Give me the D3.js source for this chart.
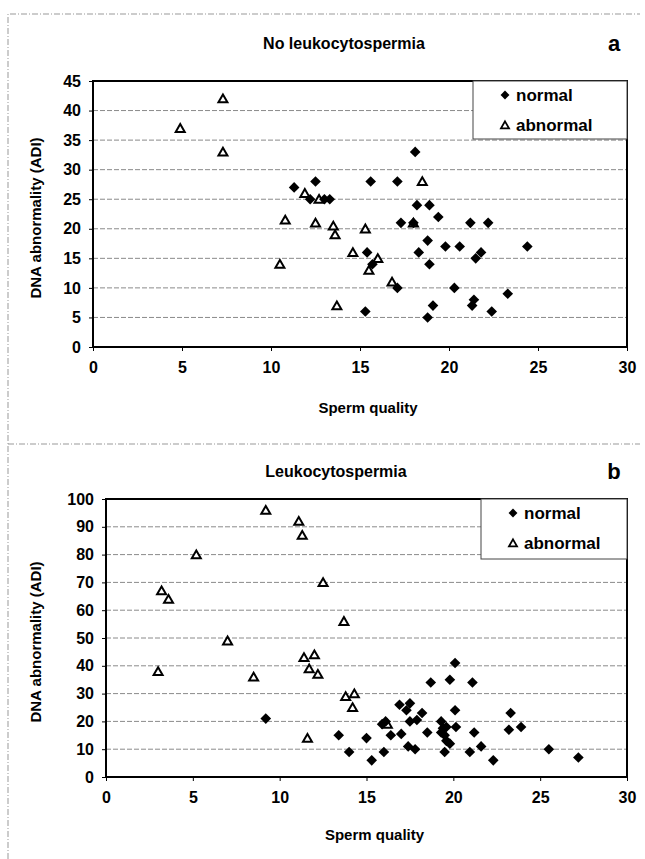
<!DOCTYPE html>
<meta charset="utf-8">
<style>
  body { margin: 0; background: #fff; }
  svg text { font-family: "Liberation Sans", Arial, sans-serif; font-weight: bold; fill: #000; }
  .grid line { stroke: #8a8a8a; stroke-width: 1; stroke-dasharray: 5,2; }
  .frame { fill: none; stroke: #999; stroke-width: 1; stroke-dasharray: 6,2,1,2; }
</style>
<body>
<script src="https://d3js.org/d3.v7.min.js"></script>
<script>
// panel a: no leukocytospermia
var normalA = [
  [11.3, 27], [12.5, 28], [12.2, 25], [13.0, 25], [13.3, 25], [15.6, 28], [17.1, 28],
  [18.1, 33], [18.2, 24], [18.9, 24], [19.4, 22], [17.3, 21], [18.0, 21], [21.2, 21],
  [22.2, 21], [18.8, 18], [19.8, 17], [20.6, 17], [24.4, 17], [15.4, 16], [18.3, 16],
  [21.8, 16], [21.5, 15], [18.9, 14], [15.7, 14], [17.1, 10], [20.3, 10], [23.3, 9],
  [21.4, 8], [21.3, 7], [19.1, 7], [15.3, 6], [22.4, 6], [18.8, 5]
];
var abnormalA = [
  [7.3, 42], [4.9, 37], [7.3, 33], [11.9, 26], [12.7, 25], [10.8, 21.5], [12.5, 21],
  [13.5, 20.5], [13.6, 19], [14.6, 16], [10.5, 14], [13.7, 7], [18.5, 28], [18.0, 21],
  [15.3, 20], [16.0, 15], [15.5, 13], [16.8, 11]
];
// panel b: leukocytospermia
var normalB = [
  [9.2, 21], [13.4, 15], [14.0, 9], [15.0, 14], [15.3, 6], [16.0, 9], [15.9, 19], [16.1, 20],
  [16.4, 15], [17.0, 15.5], [16.9, 26], [17.5, 26.5], [17.3, 24], [18.2, 23], [20.1, 24],
  [23.3, 23], [17.5, 20], [17.9, 20.5], [19.3, 20], [19.6, 18], [20.15, 18], [23.2, 17],
  [23.9, 18], [18.5, 16], [19.5, 15], [19.6, 13], [21.2, 16], [17.4, 11], [17.8, 10],
  [19.5, 9], [19.8, 12], [20.95, 9], [21.6, 11], [22.3, 6], [25.5, 10], [27.2, 7],
  [19.4, 17.5], [19.3, 16], [20.1, 41], [18.7, 34], [19.8, 35], [21.1, 34]
];
var abnormalB = [
  [9.2, 96], [11.1, 92], [11.3, 87], [5.2, 80], [12.5, 70], [3.2, 67], [3.6, 64],
  [13.7, 56], [7.0, 49], [11.4, 43], [12.0, 44], [11.7, 39], [12.2, 37], [3.0, 38],
  [8.5, 36], [13.8, 29], [14.3, 30], [14.2, 25], [11.6, 14], [16.2, 19]
];
var xTicks = [0, 5, 10, 15, 20, 25, 30];
var yTicksA = [0, 5, 10, 15, 20, 25, 30, 35, 40, 45];
var yTicksB = [0, 10, 20, 30, 40, 50, 60, 70, 80, 90, 100];
var seriesNames = ["normal", "abnormal"];

var svg = d3.select("body").append("svg")
    .attr("width", 645)
    .attr("height", 859);

// scanned page frame
svg.append("path").attr("class", "frame")
    .attr("d", "M8,859 L8,14 L640,14");
svg.append("line").attr("class", "frame")
    .attr("x1", 8).attr("x2", 640).attr("y1", 444).attr("y2", 444);

var diamond = d3.symbol().type(d3.symbolDiamond2).size(72);
var triangle = d3.symbol().type(d3.symbolTriangle2).size(58);
var legDiamond = d3.symbol().type(d3.symbolDiamond2).size(50);
var legTriangle = d3.symbol().type(d3.symbolTriangle2).size(46);

function drawPanel(opt) {
  var x = d3.scaleLinear().domain([0, 30]).range([opt.left, opt.right]);
  var y = d3.scaleLinear().domain([0, opt.yMax]).range([opt.bottom, opt.top]);
  var g = svg.append("g");

  g.append("g").attr("class", "grid")
    .selectAll("line")
    .data(opt.yTicks.filter(function(d) { return d > 0 && d < opt.yMax; }))
    .enter().append("line")
      .attr("x1", opt.left).attr("x2", opt.right)
      .attr("y1", function(d) { return y(d); })
      .attr("y2", function(d) { return y(d); });

  g.append("rect")
    .attr("x", opt.left).attr("y", opt.top)
    .attr("width", opt.right - opt.left).attr("height", opt.bottom - opt.top)
    .attr("fill", "none").attr("stroke", "#000").attr("stroke-width", 2);

  var xAxis = g.append("g")
    .attr("transform", "translate(0," + opt.bottom + ")")
    .call(d3.axisBottom(x).tickValues(xTicks).tickSize(4).tickPadding(11));
  var yAxis = g.append("g")
    .attr("transform", "translate(" + opt.left + ",0)")
    .call(d3.axisLeft(y).tickValues(opt.yTicks).tickSize(4).tickPadding(opt.yPad));
  [xAxis, yAxis].forEach(function(a) {
    a.select(".domain").remove();
    a.selectAll("line").attr("stroke", "#000");
    a.selectAll("text").attr("font-size", 16)
      .attr("font-family", "Liberation Sans, Arial, sans-serif")
      .attr("font-weight", "bold");
  });

  g.append("g").selectAll("path")
    .data(opt.abnormal)
    .enter().append("path")
      .attr("d", triangle)
      .attr("transform", function(d) { return "translate(" + x(d[0]) + "," + (y(d[1]) + 1) + ")"; })
      .attr("fill", "#fff").attr("stroke", "#000").attr("stroke-width", 2);

  g.append("g").selectAll("path")
    .data(opt.normal)
    .enter().append("path")
      .attr("d", diamond)
      .attr("transform", function(d) { return "translate(" + x(d[0]) + "," + y(d[1]) + ")"; })
      .attr("fill", "#000");

  // legend
  var lg = g.append("g");
  lg.append("rect")
    .attr("x", opt.legend[0]).attr("y", opt.top)
    .attr("width", opt.right - opt.legend[0]).attr("height", opt.legend[1] - opt.top)
    .attr("fill", "#fff").attr("stroke", "#444").attr("stroke-width", 1);
  seriesNames.forEach(function(name, i) {
    var ly = opt.top + 14 + i * 30;
    lg.append("path")
      .attr("d", i === 0 ? legDiamond : legTriangle)
      .attr("transform", "translate(" + (opt.legend[0] + 32) + "," + (ly + (i === 0 ? 0 : 1)) + ")")
      .attr("fill", i === 0 ? "#000" : "#fff")
      .attr("stroke", "#000").attr("stroke-width", i === 0 ? 0 : 1.8);
    lg.append("text")
      .attr("x", opt.legend[0] + 43).attr("y", ly + 6)
      .attr("font-size", 17)
      .text(name);
  });

  svg.append("text")
    .attr("x", opt.titleX).attr("y", opt.titleY)
    .attr("text-anchor", "middle").attr("font-size", 16)
    .text(opt.title);
  svg.append("text")
    .attr("x", 614).attr("y", opt.titleY + 2)
    .attr("text-anchor", "middle").attr("font-size", 22)
    .text(opt.letter);
  svg.append("text")
    .attr("x", (opt.left + opt.right) / 2 + 8).attr("y", opt.bottom + opt.xLabelDy)
    .attr("text-anchor", "middle").attr("font-size", 15)
    .text("Sperm quality");
  svg.append("text")
    .attr("transform", "translate(" + opt.yLabelX + "," + ((opt.top + opt.bottom) / 2 + 4) + ") rotate(-90)")
    .attr("text-anchor", "middle").attr("font-size", 15)
    .text("DNA abnormality (ADI)");
}

drawPanel({
  normal: normalA, abnormal: abnormalA, yMax: 45, yTicks: yTicksA,
  left: 93, right: 627, top: 81, bottom: 347, yPad: 8, xLabelDy: 66,
  legend: [473, 139], title: "No leukocytospermia", letter: "a",
  titleX: 344, titleY: 49, yLabelX: 41
});
drawPanel({
  normal: normalB, abnormal: abnormalB, yMax: 100, yTicks: yTicksB,
  left: 106, right: 627, top: 499, bottom: 777, yPad: 8, xLabelDy: 63,
  legend: [481, 559], title: "Leukocytospermia", letter: "b",
  titleX: 336, titleY: 477, yLabelX: 41
});
</script>
</body>
